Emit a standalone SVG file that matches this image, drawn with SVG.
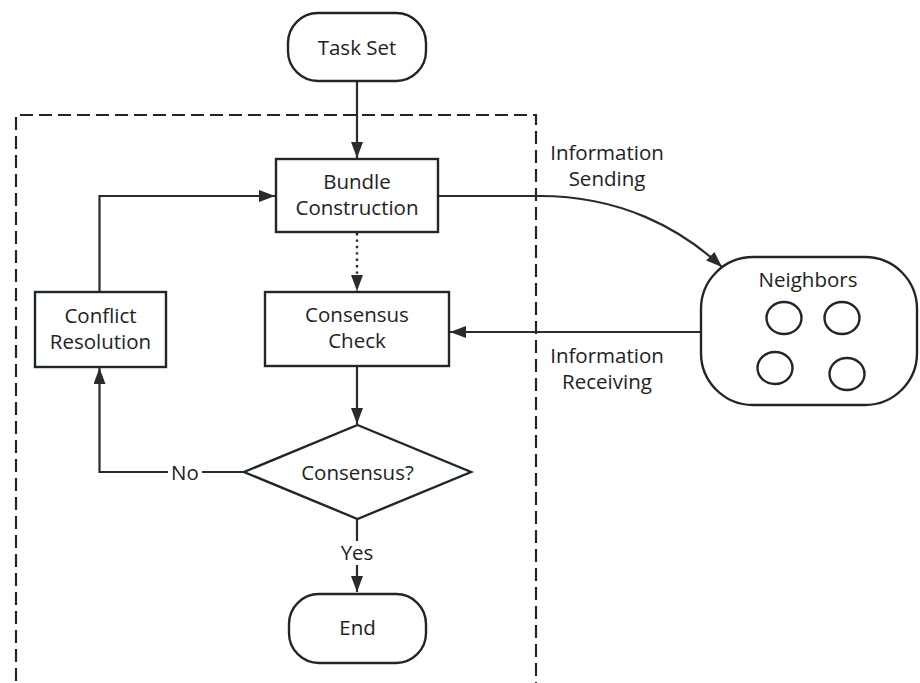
<svg xmlns="http://www.w3.org/2000/svg" width="920" height="683" viewBox="0 0 920 683">
<defs>
<style>
.box{fill:#fff;stroke:#1e272e;stroke-width:2.4}
.ln{fill:none;stroke:#2b2b2b;stroke-width:2.2}
.dot{fill:none;stroke:#2b2b2b;stroke-width:2.4;stroke-dasharray:2.4 4}
.dash{fill:none;stroke:#1e272e;stroke-width:2.2;stroke-dasharray:13 6}
text{font-family:"Open Sans","Noto Sans","DejaVu Sans",sans-serif;font-size:20.5px;fill:#222;text-anchor:middle}
</style>
<marker id="ah" markerUnits="userSpaceOnUse" markerWidth="18" markerHeight="14" refX="16" refY="6" orient="auto">
<path d="M0,0 L16,6 L0,12 z" fill="#2b2b2b"/>
</marker>
</defs>
<rect width="920" height="683" fill="#fff"/>
<path class="dash" d="M16,700 L16,115 L536,115 L536,700"/>
<g id="connectors">
<path class="ln" d="M357,81 L357,158" marker-end="url(#ah)"/>
<path class="dot" d="M357,233 L357,291" marker-end="url(#ah)"/>
<path class="ln" d="M357,366 L357,424" marker-end="url(#ah)"/>
<path class="ln" d="M244,472 L99.5,472 L99.5,368" marker-end="url(#ah)"/>
<path class="ln" d="M99.5,292 L99.5,196 L275,196" marker-end="url(#ah)"/>
<path class="ln" d="M357,519 L357,592" marker-end="url(#ah)"/>
<path class="ln" d="M438,196 L540,196 C620,196 680,228 722,267" marker-end="url(#ah)"/>
<path class="ln" d="M701,332 L450,332" marker-end="url(#ah)"/>
<rect x="168" y="460" width="34" height="24" fill="#fff"/>
<text x="185" y="480">No</text>
<rect x="340" y="541" width="34" height="24" fill="#fff"/>
<text x="357" y="560">Yes</text>
<text x="607" y="160">Information</text>
<text x="607" y="186">Sending</text>
<text x="607" y="363">Information</text>
<text x="607" y="389">Receiving</text>
</g>
<g id="task-set">
<rect class="box" x="288" y="13" width="138" height="68" rx="30"/>
<text x="357" y="55">Task Set</text>
</g>
<g id="bundle-construction">
<rect class="box" x="276" y="159" width="162" height="73"/>
<text x="357" y="189">Bundle</text>
<text x="357" y="215">Construction</text>
</g>
<g id="consensus-check">
<rect class="box" x="265" y="292" width="184" height="74"/>
<text x="357" y="322">Consensus</text>
<text x="357" y="348">Check</text>
</g>
<g id="conflict-resolution">
<rect class="box" x="35" y="292" width="131" height="75"/>
<text x="100.5" y="323">Conflict</text>
<text x="100.5" y="349">Resolution</text>
</g>
<g id="consensus-decision">
<polygon class="box" points="357.5,425 471,472 357.5,519 244,472"/>
<text x="357.5" y="480">Consensus?</text>
</g>
<g id="end">
<rect class="box" x="289" y="594" width="137" height="69" rx="30"/>
<text x="357.5" y="635">End</text>
</g>
<g id="neighbors">
<rect class="box" x="701" y="257" width="216" height="148" rx="52"/>
<text x="808" y="287">Neighbors</text>
<ellipse class="box" cx="784" cy="318" rx="17.5" ry="16"/>
<ellipse class="box" cx="842" cy="318" rx="17.5" ry="16"/>
<ellipse class="box" cx="775" cy="368" rx="17.5" ry="16"/>
<ellipse class="box" cx="847" cy="374" rx="17.5" ry="16"/>
</g>
</svg>
